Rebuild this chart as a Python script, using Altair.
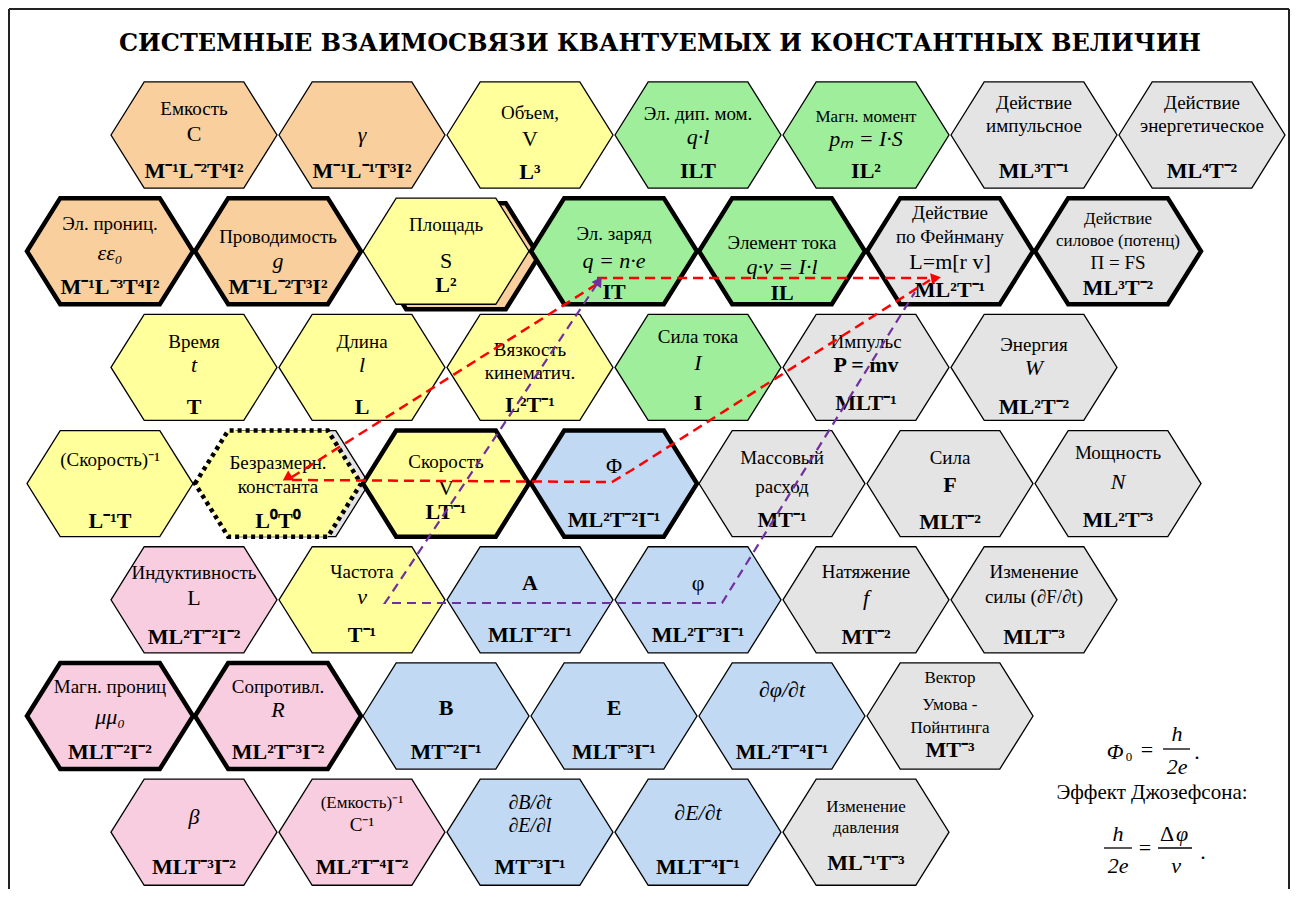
import altair as alt
import pandas as pd

# ---------------- values ----------------
TITLE = "СИСТЕМНЫЕ  ВЗАИМОСВЯЗИ  КВАНТУЕМЫХ  И  КОНСТАНТНЫХ  ВЕЛИЧИН"

HEX_ROW = [0]*7 + [1]*7 + [2]*6 + [3]*7 + [4]*6 + [5]*6 + [6]*5
HEX_COL = [1, 3, 5, 7, 9, 11, 13,
           0, 2, 4, 6, 8, 10, 12,
           1, 3, 5, 7, 9, 11,
           0, 2, 4, 6, 8, 10, 12,
           1, 3, 5, 7, 9, 11,
           0, 2, 4, 6, 8, 10,
           1, 3, 5, 7, 9]
HEX_GROUP = ["O", "O", "Y", "G", "G", "W", "W",
             "O", "O", "Y", "G", "G", "W", "W",
             "Y", "Y", "Y", "G", "W", "W",
             "Y", "Y", "Y", "B", "W", "W", "W",
             "P", "Y", "B", "B", "W", "W",
             "P", "P", "B", "B", "B", "W",
             "P", "P", "B", "B", "W"]
HEX_BORDER = ["t"]*7 + \
             ["K", "K", "t", "K", "K", "K", "K"] + \
             ["t"]*6 + \
             ["t", "D", "K", "K", "t", "t", "t"] + \
             ["t"]*6 + \
             ["K", "K", "t", "t", "t", "t"] + \
             ["t"]*5
HEX_LABELS = [
    ["Емкость", "C", "M⁻¹L⁻²T⁴I²"],
    ["γ", "M⁻¹L⁻¹T³I²"],
    ["Объем,", "V", "L³"],
    ["Эл. дип. мом.", "q·l", "ILT"],
    ["Магн. момент", "pₘ = I·S", "IL²"],
    ["Действие", "импульсное", "ML³T⁻¹"],
    ["Действие", "энергетическое", "ML⁴T⁻²"],
    ["Эл. прониц.", "εε₀", "M⁻¹L⁻³T⁴I²"],
    ["Проводимость", "g", "M⁻¹L⁻²T³I²"],
    ["Площадь", "S", "L²"],
    ["Эл. заряд", "q = n·e", "IT"],
    ["Элемент тока", "q·v = I·l", "IL"],
    ["Действие", "по Фейнману", "L=m[r v]", "ML²T⁻¹"],
    ["Действие", "силовое (потенц)", "Π = FS", "ML³T⁻²"],
    ["Время", "t", "T"],
    ["Длина", "l", "L"],
    ["Вязкость", "кинематич.", "L²T⁻¹"],
    ["Сила тока", "I", "I"],
    ["Импульс", "P = mv", "MLT⁻¹"],
    ["Энергия", "W", "ML²T⁻²"],
    ["(Скорость)⁻¹", "L⁻¹T"],
    ["Безразмерн.", "константа", "L⁰T⁰"],
    ["Скорость", "V", "LT⁻¹"],
    ["Φ", "ML²T⁻²I⁻¹"],
    ["Массовый", "расход", "MT⁻¹"],
    ["Сила", "F", "MLT⁻²"],
    ["Мощность", "N", "ML²T⁻³"],
    ["Индуктивность", "L", "ML²T⁻²I⁻²"],
    ["Частота", "ν", "T⁻¹"],
    ["A", "MLT⁻²I⁻¹"],
    ["φ", "ML²T⁻³I⁻¹"],
    ["Натяжение", "f", "MT⁻²"],
    ["Изменение", "силы (∂F/∂t)", "MLT⁻³"],
    ["Магн. прониц", "μμ₀", "MLT⁻²I⁻²"],
    ["Сопротивл.", "R", "ML²T⁻³I⁻²"],
    ["B", "MT⁻²I⁻¹"],
    ["E", "MLT⁻³I⁻¹"],
    ["∂φ/∂t", "ML²T⁻⁴I⁻¹"],
    ["Вектор", "Умова -", "Пойнтинга", "MT⁻³"],
    ["β", "MLT⁻³I⁻²"],
    ["(Емкость)⁻¹", "C⁻¹", "ML²T⁻⁴I⁻²"],
    ["∂B/∂t", "∂E/∂l", "MT⁻³I⁻¹"],
    ["∂E/∂t", "MLT⁻⁴I⁻¹"],
    ["Изменение", "давления", "ML⁻¹T⁻³"],
]
HEX_STYLES = [
    ["n", "s", "b"], ["i", "b"], ["n", "s", "b"], ["n", "i", "b"], ["sm", "i", "b"],
    ["n", "n", "b"], ["n", "n", "b"],
    ["n", "i", "b"], ["n", "i", "b"], ["n", "s", "b"], ["n", "i", "b"], ["n", "i", "b"],
    ["n", "n", "s", "b"], ["sm", "sm", "s2", "b"],
    ["n", "i", "b"], ["n", "i", "b"], ["n", "n", "b"], ["n", "i", "b"], ["n", "bs", "b"],
    ["n", "i", "b"],
    ["n", "b"], ["n", "n", "b"], ["n", "s", "b"], ["s", "b"], ["n", "n", "b"],
    ["n", "bs", "b"], ["n", "i", "b"],
    ["n", "s", "b"], ["n", "i", "b"], ["bs", "b"], ["s", "b"], ["n", "i", "b"], ["n", "n", "b"],
    ["n", "i", "b"], ["n", "i", "b"], ["bs", "b"], ["bs", "b"], ["i", "b"],
    ["sm", "sm", "sm", "b"],
    ["i", "b"], ["sm", "n", "b"], ["i2", "i2", "b"], ["i", "b"], ["sm", "sm", "b"],
]

# shadow hexagons (row, column, group, border)
SHADOW_ROW = [1, 3]
SHADOW_COL = [4, 2]
SHADOW_GROUP = ["O", "W"]
SHADOW_BORDER = ["K", "t"]

# dashed connection lines (screen pixel coordinates)
RED_PATH_X = [[597, 930], [597, 292], [292, 612, 632, 930]]
RED_PATH_Y = [[278, 278], [284, 477], [480, 482, 470, 280]]
PURPLE_PATH_X = [597, 385, 722, 915]
PURPLE_PATH_Y = [284, 603, 603, 292]

ARROW_X = [936, 287, 599]
ARROW_Y = [278, 478, 281]
ARROW_ANGLE = [350, 148, 303]
ARROW_COLOR = ["#FF0000", "#FF0000", "#7030A0"]

# formulas bottom right
FORM_TEXT = ["Φ", "0", "=", "h", "2e", ".", "Эффект Джозефсона:",
             "h", "2e", "=", "Δ", "φ", "ν", "."]
FORM_STYLE = ["i", "sub", "s", "i", "i", "s", "f",
              "i", "i", "s", "s", "i", "i", "s"]
FORM_X = [1115, 1129, 1147, 1177, 1177, 1197, 1152,
          1118, 1118, 1145, 1167, 1182, 1176, 1203]
FORM_Y = [752, 757, 750, 734, 767, 752, 793,
          834, 866, 848, 834, 834, 866, 852]
BAR_X1 = [1163, 1104, 1158]
BAR_X2 = [1190, 1132, 1192]
BAR_Y = [749, 848, 848]

# ---------------- layout / style ----------------
W, H, PAD = 1276, 875, 3
SX0, SY0 = 8 + PAD, 8 + PAD
COL_X0, COL_DX = 110, 84
ROW_Y0, ROW_DY = 135, 116.2
HEX_W = 166
HEX_PATH = "M-1,0L-0.6,-0.639L0.6,-0.639L1,0L0.6,0.639L-0.6,0.639Z"
HEX_SIZE = HEX_W * HEX_W
SHADOW_DX = [10, 8]
SHADOW_DY = [5, 0]

FILL = {"O": "#FACF9E", "Y": "#FFFF9C", "G": "#9FEE9B", "B": "#C1D9F3",
        "P": "#F8CDE0", "W": "#E4E4E4"}
BORDER_W = {"t": 1.3, "K": 4.5, "D": 0}
FONT_SIZE = {"n": 19, "sm": 17, "s": 22, "s2": 19, "i": 22, "i2": 20, "b": 22, "bs": 22,
             "sub": 13, "f": 21}

HEX_DY = [
    [-26, -1, 36], [0, 36], [-22, 4, 37], [-21, 2, 36], [-18, 4, 36],
    [-32, -9, 36], [-32, -9, 36],
    [-27, 2, 36], [-14, 10, 36], [-26, 10, 34], [-17, 10, 41], [-8, 16, 42],
    [-38, -14, 11, 39], [-32, -10, 12, 37],
    [-25, -2, 40], [-25, -2, 40], [-17, 6, 38], [-30, -4, 36], [-25, -2, 36],
    [-22, 1, 40],
    [-24, 37], [-21, 3, 37], [-22, 4, 28], [-18, 36], [-26, 3, 36], [-26, 1, 38],
    [-31, -2, 36],
    [-27, -2, 37], [-28, -3, 35], [-17, 35], [-17, 35], [-28, -2, 37], [-28, -3, 37],
    [-29, 1, 36], [-29, -6, 36], [-8, 36], [-8, 36], [-26, 36], [-38, -11, 12, 34],
    [-15, 35], [-29, -7, 35], [-29, -6, 35], [-19, 35], [-25, -4, 31],
]


def cx(c):
    return COL_X0 + COL_DX * c


def cy(r):
    return ROW_Y0 + ROW_DY * r


hex_df = pd.DataFrame({
    "x": [cx(c) for c in HEX_COL],
    "y": [cy(r) for r in HEX_ROW],
    "fill": [FILL[g] for g in HEX_GROUP],
    "sw": [BORDER_W[b] for b in HEX_BORDER],
    "border": HEX_BORDER,
})
shadow_df = pd.DataFrame({
    "x": [cx(c) + d for c, d in zip(SHADOW_COL, SHADOW_DX)],
    "y": [cy(r) + d for r, d in zip(SHADOW_ROW, SHADOW_DY)],
    "fill": [FILL[g] for g in SHADOW_GROUP],
    "sw": [BORDER_W[b] for b in SHADOW_BORDER],
})

txt_rows = []
for i in range(len(HEX_LABELS)):
    for t, s, d in zip(HEX_LABELS[i], HEX_STYLES[i], HEX_DY[i]):
        txt_rows.append({"x": cx(HEX_COL[i]), "y": cy(HEX_ROW[i]) + d,
                         "text": t, "style": s, "fs": FONT_SIZE[s]})
for t, s, x, y in zip(FORM_TEXT, FORM_STYLE, FORM_X, FORM_Y):
    txt_rows.append({"x": x, "y": y, "text": t, "style": s, "fs": FONT_SIZE[s]})
txt_df = pd.DataFrame(txt_rows)

red_rows = []
for p, (xs, ys) in enumerate(zip(RED_PATH_X, RED_PATH_Y)):
    for j, (x, y) in enumerate(zip(xs, ys)):
        red_rows.append({"path": p, "i": j, "x": x, "y": y})
red_df = pd.DataFrame(red_rows)
purple_df = pd.DataFrame({"path": 0, "i": list(range(len(PURPLE_PATH_X))),
                          "x": PURPLE_PATH_X, "y": PURPLE_PATH_Y})
arrow_df = pd.DataFrame({"x": ARROW_X, "y": ARROW_Y, "angle": ARROW_ANGLE,
                         "color": ARROW_COLOR})
bar_df = pd.DataFrame({"x": BAR_X1, "x2": BAR_X2, "y": BAR_Y})
title_df = pd.DataFrame({"x": [660], "y": [44], "text": [TITLE]})

XS = alt.Scale(domain=[SX0, SX0 + W], nice=False, zero=False)
YS = alt.Scale(domain=[SY0, SY0 + H], nice=False, zero=False, reverse=True)


def X(f="x"):
    return alt.X(f"{f}:Q", scale=XS, axis=None)


def Y(f="y"):
    return alt.Y(f"{f}:Q", scale=YS, axis=None)


FONT = "Liberation Serif"
TITLE_FONT = "DejaVu Serif"

shadows = alt.Chart(shadow_df).mark_point(
    shape=HEX_PATH, size=HEX_SIZE, filled=True, stroke="black", opacity=1
).encode(x=X(), y=Y(), fill=alt.Fill("fill:N", scale=None),
         strokeWidth=alt.StrokeWidth("sw:Q", scale=None))

hexes = alt.Chart(hex_df).mark_point(
    shape=HEX_PATH, size=HEX_SIZE, filled=True, stroke="black", opacity=1
).encode(x=X(), y=Y(), fill=alt.Fill("fill:N", scale=None),
         strokeWidth=alt.StrokeWidth("sw:Q", scale=None))

dotted = alt.Chart(hex_df).transform_filter(alt.datum.border == "D").mark_point(
    shape=HEX_PATH, size=HEX_SIZE, filled=False, stroke="black", strokeWidth=4.5,
    strokeDash=[4, 4], opacity=1
).encode(x=X(), y=Y())


def text_layer(styles, **kw):
    return alt.Chart(txt_df).transform_filter(
        alt.FieldOneOfPredicate(field="style", oneOf=styles)
    ).mark_text(font=FONT, baseline="middle", align="center", color="black", **kw).encode(
        x=X(), y=Y(), text="text:N", size=alt.Size("fs:Q", scale=None))


t_normal = text_layer(["n", "sm", "s", "s2", "sub", "f"])
t_italic = text_layer(["i", "i2"], fontStyle="italic")
t_bold = text_layer(["b", "bs"], fontWeight="bold")

title = alt.Chart(title_df).mark_text(
    font=TITLE_FONT, fontWeight="bold", fontSize=24, baseline="middle", align="center", color="black"
).encode(x=X(), y=Y(), text="text:N")

red = alt.Chart(red_df).mark_line(color="#FF0000", strokeWidth=2.5, strokeDash=[10, 6]).encode(
    x=X(), y=Y(), detail="path:N", order="i:Q")
purple = alt.Chart(purple_df).mark_line(color="#7030A0", strokeWidth=2.2, strokeDash=[9, 6]).encode(
    x=X(), y=Y(), detail="path:N", order="i:Q")
arrows = alt.Chart(arrow_df).mark_point(shape="triangle-right", size=130, filled=True, opacity=1).encode(
    x=X(), y=Y(), angle=alt.Angle("angle:Q", scale=None), color=alt.Color("color:N", scale=None))

bars = alt.Chart(bar_df).mark_rule(color="black", strokeWidth=1.3).encode(
    x=X(), x2="x2:Q", y=Y())

frame_l = alt.Chart(title_df).mark_rule(color="#222222", strokeWidth=2).encode(
    x=alt.value(-2), y=alt.value(-2), y2=alt.value(H + PAD + 2))
frame_t = alt.Chart(title_df).mark_rule(color="#222222", strokeWidth=2).encode(
    x=alt.value(-2), x2=alt.value(W + 2), y=alt.value(-2))
frame_r = alt.Chart(title_df).mark_rule(color="#222222", strokeWidth=2).encode(
    x=alt.value(W + 2), y=alt.value(-2), y2=alt.value(H + PAD + 2))

chart = alt.layer(
    shadows, hexes, dotted, t_normal, t_italic, t_bold, title,
    red, purple, arrows, bars, frame_l, frame_t, frame_r
).properties(
    width=W, height=H,
    padding={"left": PAD, "top": PAD, "right": PAD, "bottom": PAD},
    autosize=alt.AutoSizeParams(type="none"),
    background="white",
).configure_view(strokeWidth=0)

chart.save("out.html", embed_options={"renderer": "svg", "actions": False})
